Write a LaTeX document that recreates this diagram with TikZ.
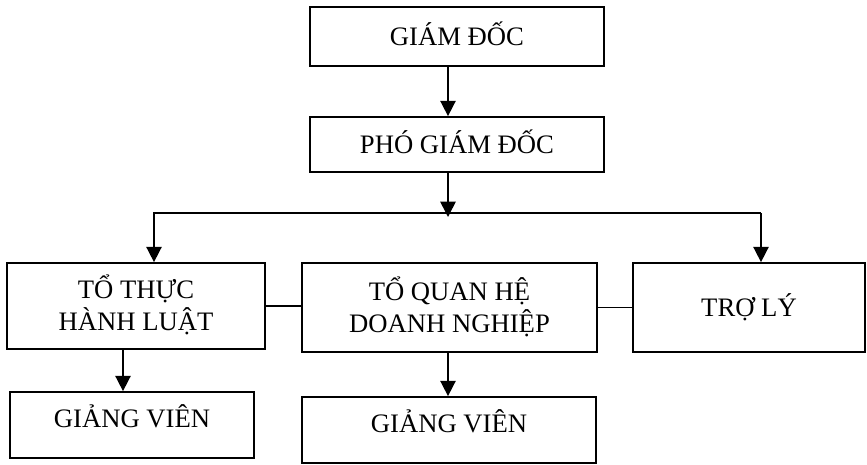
\documentclass[tikz,border=0pt]{standalone}
\usepackage{fontspec}
\setmainfont{Liberation Serif}
\usetikzlibrary{arrows.meta,calc}

\begin{document}
\begin{tikzpicture}[x=0.75pt,y=-0.75pt,
  box/.style={draw, line width=1.3pt, rectangle, inner sep=0pt,
    font=\fontsize{20}{24}\selectfont, align=center,
    text height=13.2pt, text depth=0pt},
  twoline/.style={text height=37.2pt, text depth=0pt},
  raised/.style={text depth=10pt},
  link/.style={line width=1.2pt},
  arr/.style={link, -{Triangle[length=11.5pt,width=11.5pt]}}]
\useasboundingbox (0,0) rectangle (867,464);

% boxes
\node[box, minimum width=294*0.75pt, minimum height=59*0.75pt] (gd) at (457,36.5) {GIÁM ĐỐC};
\node[box, minimum width=294*0.75pt, minimum height=55*0.75pt] (pgd) at (457,144.5) {PHÓ GIÁM ĐỐC};
\node[box, twoline, minimum width=258*0.75pt, minimum height=86*0.75pt] (tth) at (136,306) {TỔ THỰC\\HÀNH LUẬT};
\node[box, twoline, minimum width=295*0.75pt, minimum height=89*0.75pt] (tqh) at (449.5,307.5) {TỔ QUAN HỆ\\DOANH NGHIỆP};
\node[box, minimum width=232*0.75pt, minimum height=89*0.75pt] (tl) at (749,307.5) {TRỢ LÝ};
\node[box, raised, minimum width=244*0.75pt, minimum height=66*0.75pt] (gv1) at (132,425) {GIẢNG VIÊN};
\node[box, raised, minimum width=294*0.75pt, minimum height=66*0.75pt] (gv2) at (449,430) {GIẢNG VIÊN};

% branching points
\coordinate (trunk) at (448,213);
\coordinate (tip) at (448,217);
\coordinate (hl) at (154,213);
\coordinate (hr) at (761,213);
\coordinate (dl) at (123,0);
\coordinate (dm) at (448,0);

% connectors
\draw[arr] (gd.south -| trunk) -- (pgd.north -| trunk);
\draw[arr] (pgd.south -| trunk) -- (tip);
\draw[arr] (hr) -- (hl) -- (tth.north -| hl);
\draw[arr] (hr) -- (tl.north -| hr);
\draw[arr] (tth.south -| dl) -- (gv1.north -| dl);
\draw[arr] (tqh.south -| dm) -- (gv2.north -| dm);
\draw[link] (tth.east) -- (tth.east -| tqh.west);
\draw[link] (tqh.east) -- (tl.west);
\end{tikzpicture}
\end{document}
